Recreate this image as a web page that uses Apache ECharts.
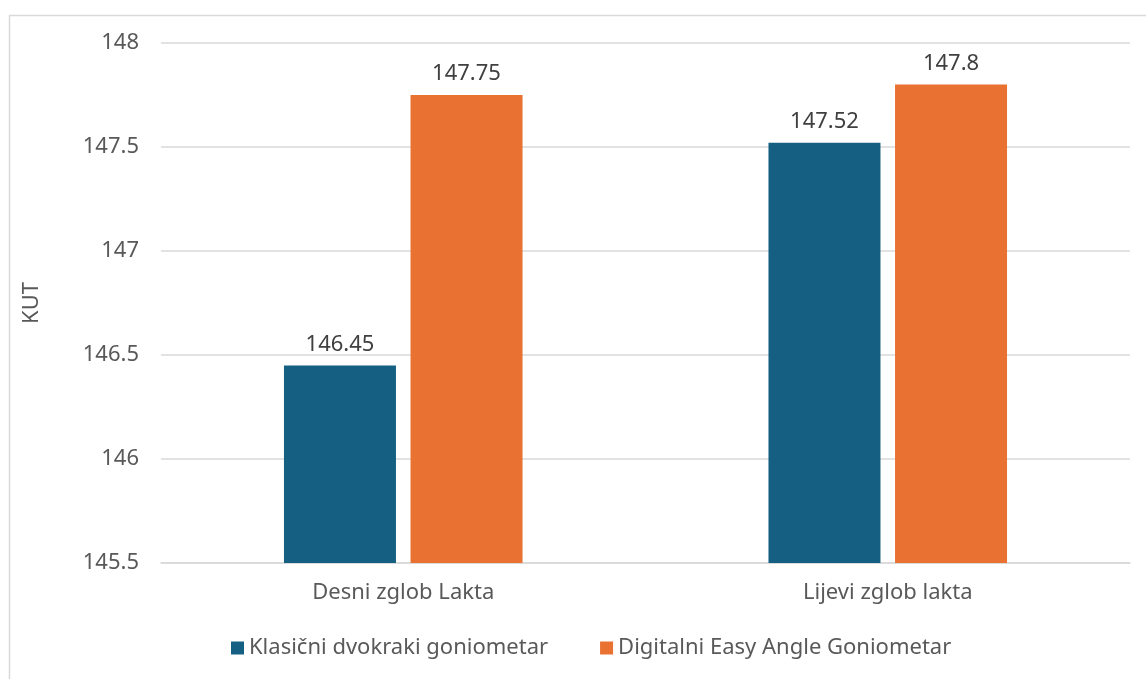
<!DOCTYPE html>
<html><head><meta charset="utf-8">
<script src="https://cdn.jsdelivr.net/npm/echarts@6/dist/echarts.min.js"></script>
<style>html,body{margin:0;padding:0;background:#fff}#c{width:1146px;height:679px}</style>
</head><body><div id="c"></div>
<script>
const categories = ['Desni zglob Lakta', 'Lijevi zglob lakta'];
const seriesNames = ['Klasični dvokraki goniometar', 'Digitalni Easy Angle Goniometar'];
const klasicni = [146.45, 147.52];
const digitalni = [147.75, 147.8];
const yAxisName = 'KUT';

const font = 'Noto Sans';
const txt = '#595959';
const chart = echarts.init(document.getElementById('c'));
chart.setOption({
  animation: false,
  graphic: [{type: 'rect', left: 7, top: 13, shape: {width: 1150, height: 700}, style: {fill: 'none', stroke: '#d9d9d9', lineWidth: 1.5}}],
  grid: {left: 161, right: 16, top: 43, bottom: 116},
  legend: {
    bottom: 15, left: 226, itemWidth: 13, itemHeight: 13, itemGap: 52,
    icon: 'rect',
    textStyle: {fontFamily: font, fontSize: 22, color: txt},
    data: seriesNames
  },
  xAxis: {
    type: 'category', data: categories,
    axisLine: {lineStyle: {color: '#d9d9d9', width: 1.5}},
    axisTick: {show: false},
    axisLabel: {fontFamily: font, fontSize: 22, color: txt, margin: 19}
  },
  yAxis: {
    type: 'value', min: 145.5, max: 148, interval: 0.5,
    name: yAxisName, nameLocation: 'middle', nameGap: 118,
    nameTextStyle: {fontFamily: font, fontSize: 22, color: txt},
    axisLine: {show: false}, axisTick: {show: false},
    axisLabel: {fontFamily: font, fontSize: 22, color: txt, margin: 22},
    splitLine: {lineStyle: {color: '#d9d9d9', width: 1.5}}
  },
  series: [
    {name: seriesNames[0], type: 'bar', data: klasicni, barWidth: 112, barGap: '13%',
     itemStyle: {color: '#156082'},
     label: {show: true, position: 'top', distance: 10, fontFamily: font, fontSize: 22, color: '#404040'}},
    {name: seriesNames[1], type: 'bar', data: digitalni, barWidth: 112,
     itemStyle: {color: '#E97132'},
     label: {show: true, position: 'top', distance: 10, fontFamily: font, fontSize: 22, color: '#404040'}}
  ]
});
</script></body></html>
